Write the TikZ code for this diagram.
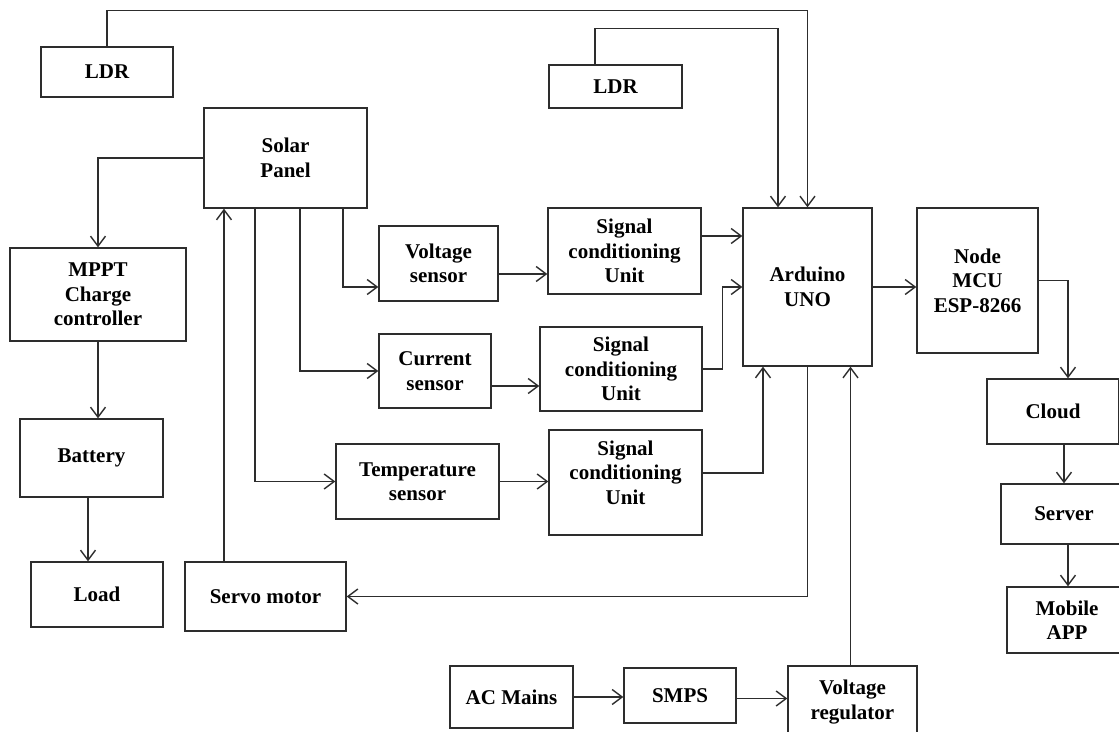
\documentclass[tikz,border=0pt]{standalone}
\usepackage{fontspec}
\setmainfont{Liberation Serif}
\usepackage{tikz}
\usetikzlibrary{positioning, arrows.meta, calc}
\definecolor{linegray}{RGB}{45,45,45}
\tikzset{
  blk/.style  = {rectangle, draw=linegray, line width=1.4pt, align=center, inner sep=0pt,
                 font=\fontsize{21}{24.5}\selectfont\bfseries},
  conn/.style = {-{Straight Barb[length=10pt, width=15pt]}, line width=1.4pt, draw=linegray},
}

\begin{document}
\begin{tikzpicture}[x=1pt, y=-1pt]
    \clip (0,0) rectangle (1119,731);
    \fill[white] (0,0) rectangle (1119,731);

    % sensing side
    \node[blk, minimum width=132, minimum height=50]  (ldrA)   at (107,72)      {LDR};
    \node[blk, minimum width=133, minimum height=43]  (ldrB)   at (615.5,86.5)  {LDR};
    \node[blk, minimum width=163, minimum height=100] (solar)  at (285.5,158)   {Solar\\Panel};
    \node[blk, minimum width=119, minimum height=75]  (volt)   at (438.5,263.5) {Voltage\\sensor};
    \node[blk, minimum width=112, minimum height=74]  (curr)   at (435,371)     {Current\\sensor};
    \node[blk, minimum width=163, minimum height=75]  (temp)   at (417.5,481.5) {Temperature\\sensor};
    \node[blk, minimum width=153, minimum height=86]  (sigA)   at (624.5,251)   {Signal\\conditioning\\Unit};
    \node[blk, minimum width=162, minimum height=84]  (sigB)   at (621,369)     {Signal\\conditioning\\Unit};
    \node[blk, minimum width=153, minimum height=105, text depth=20pt] (sigC) at (625.5,482.5) {Signal\\conditioning\\Unit};

    % power side
    \node[blk, minimum width=176, minimum height=93]  (mppt)   at (98,294.5)    {MPPT\\Charge\\controller};
    \node[blk, minimum width=143, minimum height=78]  (batt)   at (91.5,458)    {Battery};
    \node[blk, minimum width=132, minimum height=65]  (load)   at (97,594.5)    {Load};
    \node[blk, minimum width=161, minimum height=69]  (servo)  at (265.5,596.5) {Servo motor};
    \node[blk, minimum width=123, minimum height=62]  (mains)  at (511.5,697)   {AC Mains};
    \node[blk, minimum width=112, minimum height=55]  (smps)   at (680,695.5)   {SMPS};
    \node[blk, minimum width=129, minimum height=72]  (vreg)   at (852.5,702)   {Voltage\\regulator};

    % controller and IoT
    \node[blk, minimum width=129, minimum height=158] (uno)    at (807.5,287)   {Arduino\\UNO};
    \node[blk, minimum width=121, minimum height=145] (mcu)    at (977.5,280.5) {Node\\MCU\\ESP-8266};
    \node[blk, minimum width=132, minimum height=65]  (cloud)  at (1053,411.5)  {Cloud};
    \node[blk, minimum width=126, minimum height=60]  (server) at (1064,514)    {Server};
    \node[blk, minimum width=120, minimum height=66]  (app)    at (1067,620)    {Mobile\\APP};

    % LDR feeds
    \draw[conn] (ldrA.north) -- ++(0,-36) -| (uno.north);
    \draw[conn] ([xshift=-20.5pt]ldrB.north) -- ++(0,-36) -| ([xshift=-29.5pt]uno.north);

    % solar panel branches
    \draw[conn] (solar.west) -| (mppt.north);
    \draw[conn] ([xshift=57.5pt]solar.south) |- ([yshift=-23.5pt]volt.west);
    \draw[conn] ([xshift=14.5pt]solar.south) |- (curr.west);
    \draw[conn] ([xshift=-30.5pt]solar.south) |- (temp.west);
    \draw[conn] ([xshift=-41.5pt]servo.north) -- ([xshift=-41.5pt]servo.north |- solar.south);

    % charging chain
    \draw[conn] (mppt.south) -- (mppt.south |- batt.north);
    \draw[conn] ([xshift=-3.5pt]batt.south) -- ([xshift=-3.5pt]batt.south |- load.north);

    % sensors to conditioning
    \draw[conn] ([yshift=-10.5pt]volt.east) -- ([yshift=-10.5pt]volt.east -| sigA.west);
    \draw[conn] ([yshift=-15pt]curr.east) -- ([yshift=-15pt]curr.east -| sigB.west);
    \draw[conn] (temp.east) -- (temp.east -| sigC.west);

    % conditioning to Arduino
    \draw[conn] ([yshift=15pt]sigA.east) -- ([yshift=15pt]sigA.east -| uno.west);
    \draw[conn] (sigB.east) -- ++(20,0) |- (uno.west);
    \draw[conn] ([yshift=9.5pt]sigC.east) -| ([xshift=-44.5pt]uno.south);

    % Arduino outputs
    \draw[conn] (uno.south) |- (servo.east);
    \draw[conn] (uno.east) -- (uno.east -| mcu.west);

    % supply chain
    \draw[conn] (mains.east) -- (mains.east -| smps.west);
    \draw[conn] ([yshift=-3pt]smps.east) -- ([yshift=-3pt]smps.east -| vreg.west);
    \draw[conn] ([xshift=-2pt]vreg.north) -- ([xshift=-2pt]vreg.north |- uno.south);

    % IoT chain
    \draw[conn] (mcu.east) -| ([xshift=15pt]cloud.north);
    \draw[conn] (cloud.south -| server.north) -- (server.north);
    \draw[conn] ([xshift=4pt]server.south) -- ([xshift=4pt]server.south |- app.north);
\end{tikzpicture}
\end{document}
